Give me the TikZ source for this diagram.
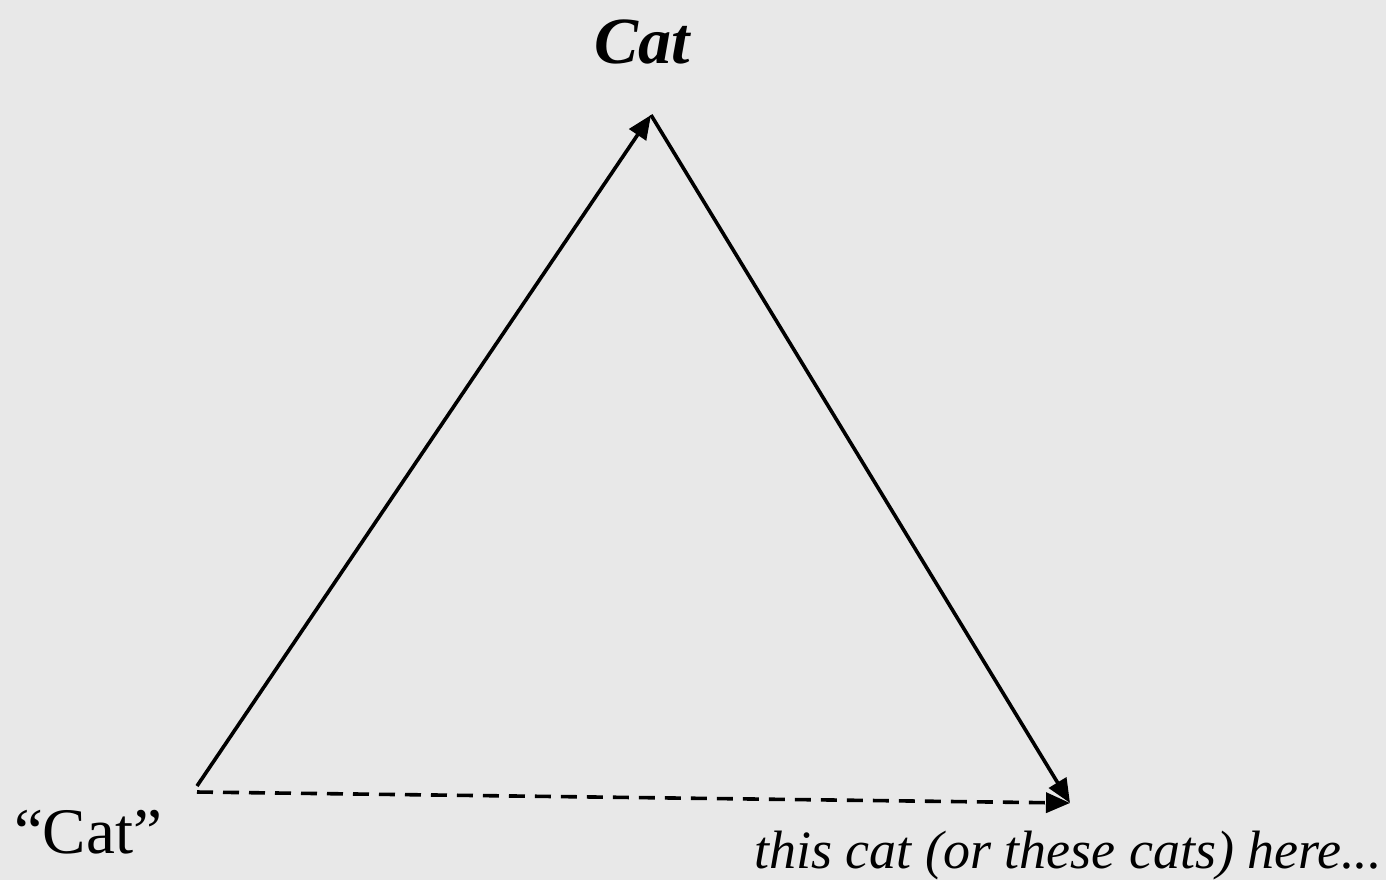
\documentclass[tikz,border=0pt]{standalone}
\usepackage{fontspec}
\setmainfont{Liberation Serif}
\usetikzlibrary{arrows.meta}
\definecolor{bg}{HTML}{E8E8E8}
\tikzset{
  edge/.style={line width=1.8pt, -{Triangle[length=12pt,width=10pt]}},
  dashedge/.style={edge, dash pattern=on 8pt off 5pt},
  lbl/.style={inner sep=0pt, anchor=center},
}
\begin{document}
\begin{tikzpicture}[x=0.5pt,y=-0.5pt]
\fill[bg] (0,0) rectangle (1386,880);
\useasboundingbox (0,0) rectangle (1386,880);
\coordinate (bl) at (197,786);
\coordinate (bld) at (197,792);
\coordinate (apex) at (651,115);
\coordinate (br) at (1070,803);
\node[lbl] (top) at (642,42) {\fontsize{33}{40}\selectfont\bfseries\itshape Cat};
\node[lbl] (left) at (88,832) {\fontsize{32.5}{40}\selectfont ``Cat''};
\node[lbl] (right) at (1068,855) {\fontsize{27}{34}\selectfont\itshape this cat (or these cats) here...};
\draw[edge] (bl) -- (apex);
\draw[edge] (apex) -- (br);
\draw[dashedge] (bld) -- (br);
\end{tikzpicture}
\end{document}
